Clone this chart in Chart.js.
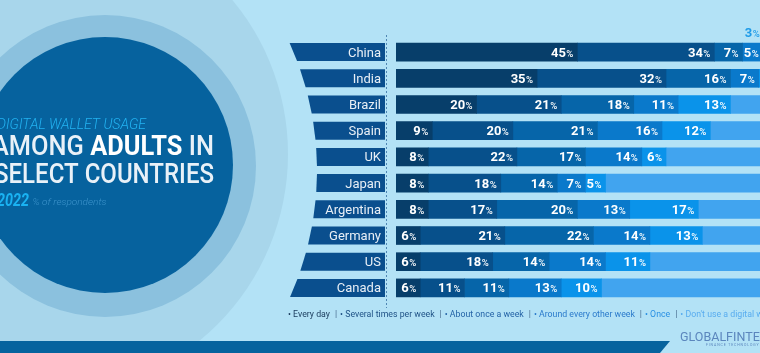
<!DOCTYPE html>
<html>
<head>
<meta charset="utf-8">
<script src="https://cdn.jsdelivr.net/npm/chart.js@4.4.0/dist/chart.umd.min.js"></script>
<style>
  html, body { margin: 0; padding: 0; background: #b3e2f6; overflow: hidden; }
  #wrap { width: 760px; height: 353px; overflow: hidden; position: relative; }
  canvas { display: block; }
</style>
</head>
<body>
<div id="wrap"><canvas id="chart" width="800" height="353"></canvas></div>
<script>
// data (% of respondents)
const countries = ["China", "India", "Brazil", "Spain", "UK", "Japan", "Argentina", "Germany", "US", "Canada"];
const everyDay = [45, 35, 20, 9, 8, 8, 8, 6, 6, 6];
const severalPerWeek = [34, 32, 21, 20, 22, 18, 17, 21, 18, 11];
const onceAWeek = [7, 16, 18, 21, 17, 14, 20, 22, 14, 11];
const everyOtherWeek = [5, 7, 11, 16, 14, 7, 13, 14, 14, 13];
const once = [3, 5, 13, 12, 6, 5, 17, 13, 11, 10];
const dontUse = [6, 5, 17, 22, 33, 48, 25, 24, 37, 49];

const seriesNames = ["Every day", "Several times per week", "About once a week",
  "Around every other week", "Once", "Don't use a digital wallet"];
const barColors = ["#073e6a", "#07508b", "#0665a9", "#0a79cb", "#0a93ea", "#41a4ef"];
const legendColors = ["#1d3f60", "#1f5286", "#2463a6", "#2a7acb", "#2a90e3", "#58acef"];

const BG = "#b3e2f6";

function fitText(ctx, parts, x, y, target) {
  let w = 0;
  parts.forEach(p => { ctx.font = p.font; p.w = ctx.measureText(p.t).width; w += p.w; });
  const s = target / w;
  ctx.save();
  ctx.translate(x, y);
  ctx.scale(s, 1);
  let cx = 0;
  parts.forEach(p => {
    ctx.font = p.font;
    ctx.fillStyle = p.color;
    ctx.textAlign = "left";
    ctx.fillText(p.t, cx, 0);
    cx += p.w;
  });
  ctx.restore();
}

// background, circles, title, country tags, legend, footer
const backdrop = {
  id: "backdrop",
  beforeDraw(chart) {
    const ctx = chart.ctx;
    const yScale = chart.scales.y;
    ctx.save();
    ctx.fillStyle = BG;
    ctx.fillRect(0, 0, chart.width, chart.height);

    // circles
    ctx.fillStyle = "#a8d6eb";
    ctx.beginPath(); ctx.arc(47, 154, 241, 0, Math.PI * 2); ctx.fill();
    ctx.fillStyle = "#8bc1de";
    ctx.beginPath(); ctx.arc(105, 166, 151, 0, Math.PI * 2); ctx.fill();
    ctx.fillStyle = "#06629e";
    ctx.beginPath(); ctx.arc(105, 165, 128, 0, Math.PI * 2); ctx.fill();

    // title
    ctx.textBaseline = "alphabetic";
    fitText(ctx, [{ t: "DIGITAL WALLET USAGE", font: "italic 300 14px Roboto", color: "#22b3f2" }], -3, 128.5, 149);
    fitText(ctx, [
      { t: "AMONG ", font: "500 28px Roboto", color: "#e9f1f8" },
      { t: "ADULTS", font: "700 28px Roboto", color: "#ffffff" },
      { t: " IN", font: "500 28px Roboto", color: "#e9f1f8" }
    ], -8, 155, 222);
    fitText(ctx, [{ t: "SELECT COUNTRIES", font: "500 28px Roboto", color: "#e9f1f8" }], -6, 182.5, 220);
    fitText(ctx, [{ t: "2022", font: "italic 700 17.5px Roboto", color: "#1ab2f2" }], -3, 205.5, 32);
    fitText(ctx, [{ t: "% of respondents", font: "italic 300 9.5px Roboto", color: "#3c93cb" }], 32.5, 205, 74);

    // country tags with arced left edge
    const arcX = y => 7 + Math.sqrt(310 * 310 - (y - 170.5) * (y - 170.5));
    countries.forEach((name, i) => {
      const yc = yScale.getPixelForValue(i);
      const t = yc - 9, b = yc + 9;
      ctx.fillStyle = "#0a4f8e";
      ctx.beginPath();
      ctx.moveTo(arcX(t), t);
      ctx.lineTo(385, t);
      ctx.lineTo(385, b);
      ctx.lineTo(arcX(b), b);
      ctx.closePath();
      ctx.fill();
      ctx.fillStyle = "#e8eff6";
      ctx.font = "400 13px Roboto";
      ctx.textAlign = "right";
      ctx.fillText(name, 381, yc + 4.5);
    });

    // dotted divider
    ctx.strokeStyle = "#4f86b3";
    ctx.lineWidth = 1;
    ctx.setLineDash([2, 2]);
    ctx.beginPath();
    ctx.moveTo(386.5, 35);
    ctx.lineTo(386.5, 308);
    ctx.stroke();
    ctx.setLineDash([]);

    // legend
    ctx.font = "400 8.75px Roboto";
    ctx.textAlign = "left";
    let lx = 288;
    seriesNames.forEach((s, i) => {
      if (i > 0) {
        ctx.fillStyle = "#4a6f90";
        ctx.fillText("|", lx, 317);
        lx += ctx.measureText("|").width + 3;
      }
      ctx.fillStyle = legendColors[i];
      const txt = "\u2022 " + s;
      ctx.fillText(txt, lx, 317);
      lx += ctx.measureText(txt).width + 5;
    });

    // footer band
    ctx.fillStyle = "#06639e";
    ctx.beginPath();
    ctx.moveTo(0, 341);
    ctx.lineTo(670, 341);
    ctx.lineTo(660, 353);
    ctx.lineTo(0, 353);
    ctx.closePath();
    ctx.fill();

    // logo
    ctx.fillStyle = "#5b86bd";
    ctx.font = "400 12.5px Roboto";
    ctx.textAlign = "left";
    ctx.fillText("GLOBALFINTECH", 680, 341);
    ctx.font = "400 3.5px Roboto";
    ctx.fillText("F I N A N C E   T E C H N O L O G Y", 706, 346);
    ctx.restore();
  }
};

// value labels inside the segments
const segLabels = {
  id: "segLabels",
  afterDatasetsDraw(chart) {
    const ctx = chart.ctx;
    ctx.save();
    ctx.textBaseline = "alphabetic";
    ctx.textAlign = "right";
    chart.data.datasets.forEach((ds, d) => {
      if (d === 5) return;
      chart.getDatasetMeta(d).data.forEach((el, i) => {
        const v = ds.data[i];
        const w = el.x - el.base;
        let xr = el.x - 4, yb = el.y + 4.5, col = "#ffffff";
        if (w < 16) {
          xr = el.base - 3;
          yb = el.y - 15;
          col = "#1e9be8";
        }
        ctx.fillStyle = col;
        ctx.font = "500 9.5px Roboto";
        const pw = ctx.measureText("%").width;
        ctx.fillText("%", xr, yb);
        ctx.font = "700 13px Roboto";
        ctx.fillText(String(v), xr - pw - 0.5, yb);
      });
    });
    ctx.restore();
  }
};

const seriesData = [everyDay, severalPerWeek, onceAWeek, everyOtherWeek, once, dontUse];

new Chart(document.getElementById("chart"), {
  type: "bar",
  data: {
    labels: countries,
    datasets: seriesData.map((arr, i) => ({
      label: seriesNames[i],
      data: arr,
      backgroundColor: barColors[i],
      borderWidth: 0,
      barThickness: 18
    }))
  },
  options: {
    indexAxis: "y",
    responsive: false,
    animation: false,
    devicePixelRatio: 1,
    layout: { padding: { left: 396, right: 1, top: 39, bottom: 52 } },
    scales: {
      x: { stacked: true, min: 0, max: 100, display: false },
      y: { stacked: true, display: false }
    },
    plugins: {
      legend: { display: false },
      tooltip: { enabled: false }
    }
  },
  plugins: [backdrop, segLabels]
});
</script>
</body>
</html>
